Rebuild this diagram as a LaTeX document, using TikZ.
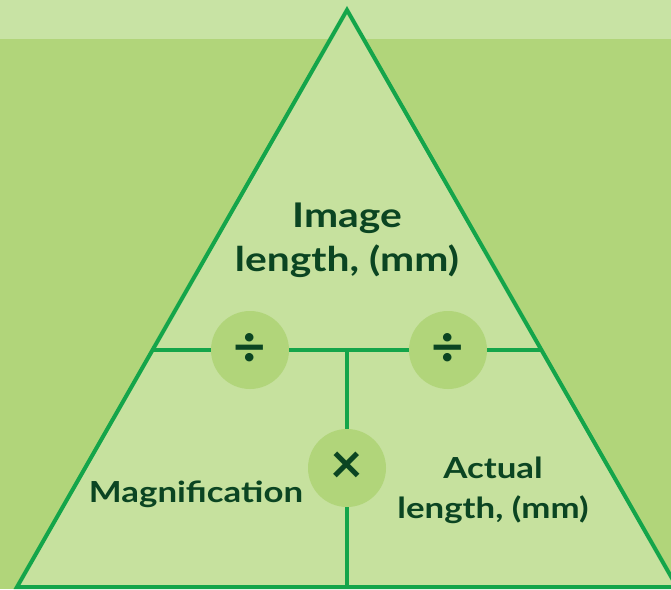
\documentclass[tikz,border=0pt]{standalone}
\usepackage{fontspec}
\setmainfont{Lato}
\newfontfamily\lblfont{Lato}[FakeStretch=1.2]
\definecolor{bandc}{HTML}{C8E3A4}
\definecolor{bgc}{HTML}{B1D57A}
\definecolor{trifill}{HTML}{C6E19E}
\definecolor{strokec}{HTML}{14A54A}
\definecolor{textc}{HTML}{0B4522}
\tikzset{
  opcircle/.style={circle, fill=bgc, minimum size=78pt, inner sep=0pt, text=textc, font=\bfseries\fontsize{56}{56}\selectfont},
  label/.style={text=textc, align=center, font=\lblfont\bfseries\fontsize{34}{44}\selectfont},
  slabel/.style={text=textc, align=center, font=\lblfont\bfseries\fontsize{29}{40}\selectfont},
  edge/.style={draw=strokec, line width=4pt}
}
\begin{document}
\begin{tikzpicture}[x=1pt,y=-1pt]
\useasboundingbox (0,0) rectangle (671,589);
\clip (0,0) rectangle (671,589);
\fill[bgc] (0,0) rectangle (671,589);
\fill[bandc] (0,0) rectangle (671,39);
\coordinate (apex) at (347,10);
\coordinate (bl) at (17,587);
\coordinate (br) at (677,587);
\coordinate (hl) at (152,350);
\coordinate (hr) at (542,350);
\coordinate (vt) at (347,350);
\coordinate (vb) at (347,589);
\filldraw[fill=trifill, edge, line join=miter] (apex) -- (br) -- (bl) -- cycle;
\draw[edge] (hl) -- (hr);
\draw[edge] (vt) -- (vb);
\node[opcircle] (div1) at (250,350) {÷};
\node[opcircle] (div2) at (448,350) {÷};
\node[opcircle] (mul) at (347,468) {×};
\node[label] (img) at (347,240) {Image\\length, (mm)};
\node[slabel] (mag) at (196,494) {Magnification};
\node[slabel] (act) at (493,490) {Actual\\length, (mm)};
\end{tikzpicture}
\end{document}
